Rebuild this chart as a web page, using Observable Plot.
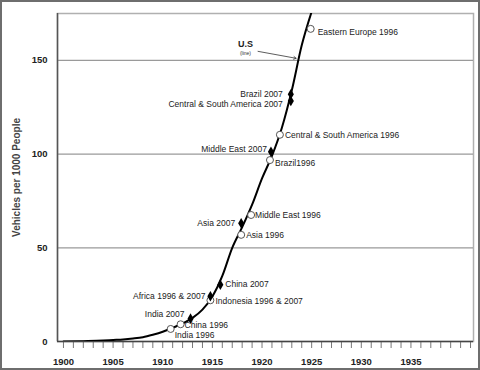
<!DOCTYPE html>
<html>
<head>
<meta charset="utf-8">
<script src="https://cdn.jsdelivr.net/npm/d3@7"></script>
<script src="https://cdn.jsdelivr.net/npm/@observablehq/plot@0.6"></script>
<style>
  html, body { margin: 0; padding: 0; background: #fff; }
  #wrap { width: 480px; height: 370px; box-sizing: border-box; border: 2px solid #6e6e6e; overflow: hidden; background: #fff; }
  svg { display: block; }
</style>
</head>
<body>
<div id="wrap"></div>
<script>
// U.S. vehicles per 1000 people, by year (the line)
const years = [1900, 1902, 1904, 1905, 1906, 1907, 1908, 1909, 1910, 1911, 1912, 1913, 1914, 1915, 1916, 1917, 1918, 1919, 1920, 1921, 1922, 1923, 1924, 1925];
const usVehicles = [0, 0.2, 0.5, 0.8, 1.1, 1.6, 2.3, 3.6, 5.2, 7.3, 9.6, 12.6, 17, 24, 35, 50, 61, 73, 87, 99, 114, 134, 158, 176];

// Countries/regions placed on the U.S. curve
const markerLabels = ["Eastern Europe 1996", "Brazil 2007", "Central & South America 2007", "Central & South America 1996", "Middle East 2007", "Brazil1996", "Middle East 1996", "Asia 2007", "Asia 1996", "China 2007", "Africa 1996 & 2007", "Indonesia 1996 & 2007", "India 2007", "China 1996", "India 1996"];
const markerYears = [1924.9, 1922.9, 1922.9, 1921.8, 1920.9, 1920.8, 1918.9, 1917.9, 1917.9, 1915.8, 1914.8, 1914.8, 1912.8, 1911.8, 1910.8];
const markerValues = [166.8, 131.9, 128.3, 110.3, 101.2, 96.8, 67.5, 63.1, 56.9, 30.3, 24.1, 22.0, 12.2, 9.2, 6.7];
const markerKind = ["1996", "2007", "2007", "1996", "2007", "1996", "1996", "2007", "1996", "2007", "2007", "1996", "2007", "1996", "1996"];

// Tick labels
const xTickLabels = [1900, 1905, 1910, 1915, 1920, 1925, 1930, 1935];
const yTickLabels = [0, 50, 100, 150];

// Label placement (layout only)
const labelLayout = {
  "Eastern Europe 1996": {side: "start", dx: 7, dy: 3},
  "Brazil 2007": {side: "end", dx: -8, dy: 0},
  "Central & South America 2007": {side: "end", dx: -8, dy: 3},
  "Central & South America 1996": {side: "start", dx: 5, dy: 0},
  "Middle East 2007": {side: "end", dx: -4, dy: -3},
  "Brazil1996": {side: "start", dx: 5, dy: 3},
  "Middle East 1996": {side: "start", dx: 4, dy: 0},
  "Asia 2007": {side: "end", dx: -6, dy: 0},
  "Asia 1996": {side: "start", dx: 5, dy: 0},
  "China 2007": {side: "start", dx: 5, dy: 0},
  "Africa 1996 & 2007": {side: "end", dx: -5, dy: 0},
  "Indonesia 1996 & 2007": {side: "start", dx: 5, dy: 1},
  "India 2007": {side: "end", dx: -6, dy: -4},
  "China 1996": {side: "start", dx: 4, dy: 1},
  "India 1996": {side: "start", dx: 4, dy: 6}
};

// Annotation for the U.S. line
const usNote = {textYear: 1918.33, titleValue: 158.8, subValue: 153.5, arrowFromYear: 1919.6, arrowFromValue: 154.8, arrowToYear: 1923.43, arrowToValue: 151.1};

const usData = years.map((y, i) => ({year: y, v: usVehicles[i]}));
const markers = markerLabels.map((l, i) => ({label: l, year: markerYears[i], v: markerValues[i], kind: markerKind[i], ...labelLayout[l]}));

const font = "'Liberation Sans', Arial, sans-serif";

const textMarks = markers.map(m =>
  Plot.text([m], {x: "year", y: "v", text: "label", textAnchor: m.side, dx: m.dx, dy: m.dy,
    fontSize: 8.5, fill: "#222", fontFamily: font})
);

const chart = Plot.plot({
  width: 476,
  height: 366,
  marginLeft: 55,
  marginRight: 5,
  marginTop: 11,
  marginBottom: 27,
  style: {fontFamily: font, background: "#fff", overflow: "visible"},
  x: {domain: [1899.4, 1941.3]},
  y: {domain: [0, 175]},
  marks: [
    Plot.frame({stroke: "#b0b0b0", strokeWidth: 1.5}),
    Plot.gridY(yTickLabels.filter(d => d > 0), {stroke: "#9a9a9a", strokeOpacity: 1, strokeWidth: 1.2}),
    Plot.axisX(d3.range(1900, 1942), {tickSize: 7, text: null, stroke: "#777", strokeWidth: 1, label: null}),
    Plot.axisX(xTickLabels, {tickSize: 0, tickPadding: 17, label: null, fontSize: 9.5, fontWeight: "bold", fill: "#222", tickFormat: d => String(d)}),
    Plot.axisY(yTickLabels, {tickSize: 0, tickPadding: 10, fontSize: 9.5, fontWeight: "bold", fill: "#222",
      label: "Vehicles per 1000 People", labelAnchor: "center", labelArrow: "none", labelOffset: 45}),
    Plot.ruleX([1899.4], {stroke: "#555", strokeWidth: 1.5}),
    Plot.ruleY([0], {stroke: "#444", strokeWidth: 1.5}),
    Plot.line(usData, {x: "year", y: "v", stroke: "#000", strokeWidth: 2, curve: "monotone-x", clip: true}),
    Plot.arrow([usNote], {x1: "arrowFromYear", y1: "arrowFromValue", x2: "arrowToYear", y2: "arrowToValue", stroke: "#333", strokeWidth: 0.8, headLength: 5, bend: 0}),
    Plot.text([usNote], {x: "textYear", y: "titleValue", text: () => "U.S", fontSize: 9, fontWeight: "bold", fill: "#222"}),
    Plot.text([usNote], {x: "textYear", y: "subValue", text: () => "(line)", fontSize: 5, fill: "#333"}),
    Plot.dot(markers.filter(m => m.kind === "1996"), {x: "year", y: "v", r: 3.5, fill: "#fff", stroke: "#555", strokeWidth: 1}),
    Plot.dot(markers.filter(m => m.kind === "2007"), {x: "year", y: "v", r: 3.2, symbol: "diamond", fill: "#000"}),
    ...textMarks
  ]
});

document.getElementById("wrap").appendChild(chart);

// style the y-axis label to match
chart.querySelectorAll("[aria-label='y-axis label'] text, [aria-label='y-axis label']").forEach(el => {
  el.setAttribute("font-size", "10");
  el.setAttribute("font-weight", "bold");
  el.setAttribute("fill", "#444");
});
</script>
</body>
</html>
